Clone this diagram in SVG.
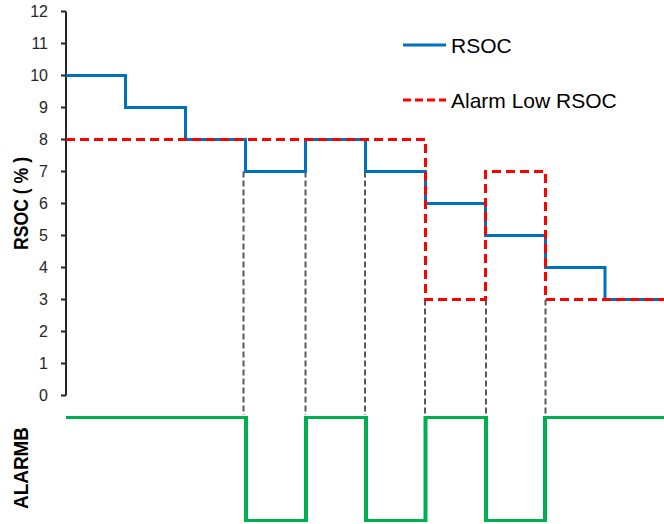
<svg xmlns="http://www.w3.org/2000/svg" width="664" height="524" viewBox="0 0 664 524">
<style>
.tick{font-family:"Liberation Sans",Arial,sans-serif;font-size:16px;fill:#262626;text-anchor:end}
.title{font-family:"Liberation Sans",Arial,sans-serif;font-size:20px;font-weight:bold;fill:#000;text-anchor:middle}
.leg{font-family:"Liberation Sans",Arial,sans-serif;font-size:21px;fill:#000}
.axis{stroke:#262626;stroke-width:2;fill:none}
.blue{stroke:#0070C0;stroke-width:3;fill:none}
.red{stroke:#FF0000;stroke-width:3;fill:none;stroke-dasharray:9 5}
.gray{stroke:#595959;stroke-width:2;fill:none;stroke-dasharray:6 3}
.green{stroke:#00B050;stroke-width:3;fill:none}
.greenv{stroke:#00B050;stroke-width:4;fill:none}
</style>
<rect width="664" height="524" fill="#fff"/>
<g id="axis">
<path class="axis" d="M66,11.5 V395.5 M61,11.5 H66 M61,43.5 H66 M61,75.5 H66 M61,107.5 H66 M61,139.5 H66 M61,171.5 H66 M61,203.5 H66 M61,235.5 H66 M61,267.5 H66 M61,299.5 H66 M61,331.5 H66 M61,363.5 H66 M61,395.5 H66"/>
<text class="tick" x="48" y="17">12</text>
<text class="tick" x="48" y="49">11</text>
<text class="tick" x="48" y="81">10</text>
<text class="tick" x="48" y="113">9</text>
<text class="tick" x="48" y="145">8</text>
<text class="tick" x="48" y="177">7</text>
<text class="tick" x="48" y="209">6</text>
<text class="tick" x="48" y="241">5</text>
<text class="tick" x="48" y="273">4</text>
<text class="tick" x="48" y="305">3</text>
<text class="tick" x="48" y="337">2</text>
<text class="tick" x="48" y="369">1</text>
<text class="tick" x="48" y="401">0</text>
<text class="title" transform="translate(28,203.5) rotate(-90)" textLength="93" lengthAdjust="spacingAndGlyphs">RSOC ( % )</text>
<text class="title" transform="translate(27.5,468) rotate(-90)" textLength="82" lengthAdjust="spacingAndGlyphs">ALARMB</text>
</g>
<g id="connectors">
<path class="gray" d="M243.5,171.5 V415 M305.5,171.5 V415 M365,171.5 V415 M425,299.5 V415 M486,299.5 V415 M545.5,299.5 V415"/>
</g>
<g id="rsoc">
<path class="blue" d="M66,75.5 H125.5 V107.5 H185.5 V139.5 H245.5 V171.5 H305.5 V139.5 H365.5 V171.5 H425.5 V203.5 H485.5 V235.5 H545.5 V267.5 H605 V299.5 H664"/>
</g>
<g id="alarm-low-rsoc">
<path class="red" d="M66,139.5 H425.5 V299.5 H485.5 V171.5 H545.5 V299.5 H664"/>
</g>
<g id="alarmb">
<path class="green" d="M66,417.5 H246 M246,520.5 H306 M306,417.5 H366 M366,520.5 H425.5 M425.5,417.5 H486 M486,520.5 H545 M545,417.5 H664"/>
<path class="greenv" d="M246,416 V522 M306,416 V522 M366,416 V522 M425.5,416 V522 M486,416 V522 M545,416 V522"/>
</g>
<g id="legend">
<line class="blue" x1="403" y1="45" x2="446" y2="45"/>
<text class="leg" x="451" y="53">RSOC</text>
<line class="red" x1="403" y1="100" x2="446" y2="100" style="stroke-dasharray:8 4"/>
<text class="leg" x="451" y="108">Alarm Low RSOC</text>
</g>
</svg>
